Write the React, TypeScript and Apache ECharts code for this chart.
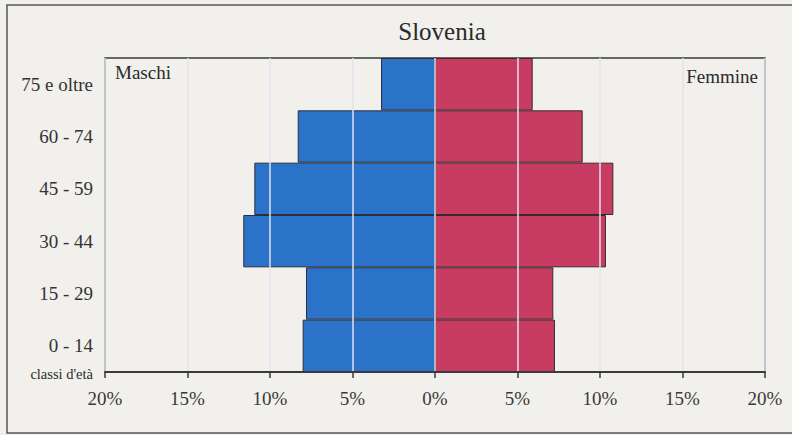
import React, { useEffect, useRef } from "react";
import * as echarts from "echarts";

const categories = ["0 - 14", "15 - 29", "30 - 44", "45 - 59", "60 - 74", "75 e oltre"];
const maschi = [8.02, 7.82, 11.62, 10.95, 8.32, 3.27];
const femmine = [7.27, 7.17, 10.36, 10.81, 8.95, 5.92];
const xTicks = [-20, -15, -10, -5, 0, 5, 10, 15, 20];

const FONT = "'Liberation Serif', 'DejaVu Serif', serif";

export default function App() {
  const ref = useRef<HTMLDivElement>(null);
  useEffect(() => {
    if (!ref.current) return;
    const chart = echarts.init(ref.current, null, { renderer: "svg" });
    chart.setOption({
      animation: false,
      backgroundColor: "#f1f0ec",
      title: {
        text: "Slovenia",
        left: 437,
        textAlign: "center",
        top: 14,
        textStyle: { fontFamily: FONT, fontSize: 25, fontWeight: "normal", color: "#2a2a2a" },
      },
      grid: {
        left: 105,
        right: 27,
        top: 58,
        bottom: 63,
        show: true,
        borderColor: "#3a3a3a",
        borderWidth: 1.5,
        backgroundColor: "transparent",
      },
      xAxis: {
        type: "value",
        min: xTicks[0],
        max: xTicks[xTicks.length - 1],
        interval: 5,
        z: 5,
        axisLine: { show: true, onZero: false, lineStyle: { color: "#3a3a3a", width: 2 } },
        axisTick: { show: true, length: 6, lineStyle: { color: "#3a3a3a", width: 1.5 } },
        splitLine: { show: true, lineStyle: { color: "#e2e2f2", width: 1.5 } },
        axisLabel: {
          formatter: (v: number) => Math.abs(v) + "%",
          fontFamily: FONT,
          fontSize: 19,
          color: "#3a3a3a",
          margin: 17,
        },
      },
      yAxis: {
        type: "category",
        data: categories,
        axisLine: { show: true, lineStyle: { color: "#3a3a3a", width: 2 } },
        axisTick: { show: false },
        axisLabel: { fontFamily: FONT, fontSize: 19, color: "#333", margin: 12 },
      },
      series: [
        {
          name: "Maschi",
          type: "bar",
          stack: "tot",
          barCategoryGap: "0%",
          data: maschi.map((v) => -v),
          itemStyle: { color: "#2b72c9", borderColor: "#2e2e3a", borderWidth: 1 },
        },
        {
          name: "Femmine",
          type: "bar",
          stack: "tot",
          barCategoryGap: "0%",
          data: femmine,
          itemStyle: { color: "#c93c62", borderColor: "#3a2a2e", borderWidth: 1 },
        },
      ],
      graphic: [
        {
          type: "rect",
          shape: { x: 7, y: 5, width: 800, height: 428 },
          style: { fill: "none", stroke: "#555", lineWidth: 1.5 },
          silent: true,
        },
        {
          type: "text",
          left: 115,
          top: 63,
          style: { text: "Maschi", font: `19px ${FONT}`, fill: "#2a2a2a" },
        },
        {
          type: "text",
          right: 34,
          top: 67,
          style: { text: "Femmine", font: `19px ${FONT}`, fill: "#2a2a2a" },
        },
        {
          type: "text",
          right: 699,
          top: 366,
          style: { text: "classi d'età", font: `14.5px ${FONT}`, fill: "#2a2a2a" },
        },
      ],
    });
    return () => chart.dispose();
  }, []);
  return (
    <div
      ref={ref}
      style={{ position: "fixed", left: 0, top: 0, width: 792, height: 435 }}
    />
  );
}
